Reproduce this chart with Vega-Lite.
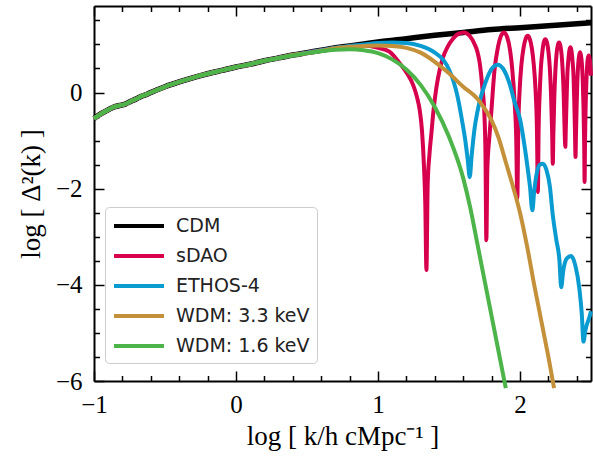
{
"$schema": "https://vega.github.io/schema/vega-lite/v6.json",
"width": 497, "height": 375,
"autosize": {"type": "none"},
"padding": {"left": 94, "top": 6, "right": 2, "bottom": 75},
"datasets": {"d": [
{"model":"CDM","x":-1.0,"y":-0.54},{"model":"CDM","x":-0.95,"y":-0.44},{"model":"CDM","x":-0.9,"y":-0.36},{"model":"CDM","x":-0.86,"y":-0.30},{"model":"CDM","x":-0.82,"y":-0.27},{"model":"CDM","x":-0.78,"y":-0.24},{"model":"CDM","x":-0.74,"y":-0.18},{"model":"CDM","x":-0.7,"y":-0.13},{"model":"CDM","x":-0.67,"y":-0.08},{"model":"CDM","x":-0.63,"y":-0.04},{"model":"CDM","x":-0.6,"y":0.0},{"model":"CDM","x":-0.5,"y":0.12},{"model":"CDM","x":-0.4,"y":0.22},{"model":"CDM","x":-0.3,"y":0.31},{"model":"CDM","x":-0.2,"y":0.39},{"model":"CDM","x":-0.1,"y":0.46},{"model":"CDM","x":0.0,"y":0.53},{"model":"CDM","x":0.1,"y":0.59},{"model":"CDM","x":0.2,"y":0.66},{"model":"CDM","x":0.3,"y":0.72},{"model":"CDM","x":0.4,"y":0.78},{"model":"CDM","x":0.5,"y":0.83},{"model":"CDM","x":0.6,"y":0.88},{"model":"CDM","x":0.7,"y":0.93},{"model":"CDM","x":0.8,"y":0.97},{"model":"CDM","x":0.9,"y":1.01},{"model":"CDM","x":1.0,"y":1.05},{"model":"CDM","x":1.2,"y":1.12},{"model":"CDM","x":1.4,"y":1.19},{"model":"CDM","x":1.6,"y":1.25},{"model":"CDM","x":1.8,"y":1.31},{"model":"CDM","x":2.0,"y":1.35},{"model":"CDM","x":2.2,"y":1.39},{"model":"CDM","x":2.4,"y":1.43},{"model":"CDM","x":2.5,"y":1.45},

{"model":"sDAO","x":-1.0,"y":-0.54},{"model":"sDAO","x":-0.95,"y":-0.44},{"model":"sDAO","x":-0.9,"y":-0.36},{"model":"sDAO","x":-0.86,"y":-0.30},{"model":"sDAO","x":-0.82,"y":-0.27},{"model":"sDAO","x":-0.78,"y":-0.24},{"model":"sDAO","x":-0.74,"y":-0.18},{"model":"sDAO","x":-0.7,"y":-0.13},{"model":"sDAO","x":-0.67,"y":-0.08},{"model":"sDAO","x":-0.63,"y":-0.04},{"model":"sDAO","x":-0.6,"y":0.0},{"model":"sDAO","x":-0.5,"y":0.12},{"model":"sDAO","x":-0.4,"y":0.22},{"model":"sDAO","x":-0.3,"y":0.31},{"model":"sDAO","x":-0.2,"y":0.39},{"model":"sDAO","x":-0.1,"y":0.46},{"model":"sDAO","x":0.0,"y":0.53},{"model":"sDAO","x":0.1,"y":0.59},{"model":"sDAO","x":0.2,"y":0.66},{"model":"sDAO","x":0.3,"y":0.72},{"model":"sDAO","x":0.4,"y":0.78},{"model":"sDAO","x":0.5,"y":0.83},{"model":"sDAO","x":0.6,"y":0.88},{"model":"sDAO","x":0.7,"y":0.92},
{"model":"sDAO","x":0.8,"y":0.96},{"model":"sDAO","x":0.9,"y":0.98},{"model":"sDAO","x":1.0,"y":0.93},{"model":"sDAO","x":1.08,"y":0.85},{"model":"sDAO","x":1.15,"y":0.62},{"model":"sDAO","x":1.2,"y":0.42},{"model":"sDAO","x":1.247,"y":0.16},{"model":"sDAO","x":1.275,"y":-0.1},{"model":"sDAO","x":1.294,"y":-0.37},{"model":"sDAO","x":1.31,"y":-0.8},{"model":"sDAO","x":1.324,"y":-1.55},{"model":"sDAO","x":1.333,"y":-2.3},{"model":"sDAO","x":1.341,"y":-3.69},{"model":"sDAO","x":1.35,"y":-1.9},{"model":"sDAO","x":1.362,"y":-1.3},{"model":"sDAO","x":1.376,"y":-0.85},{"model":"sDAO","x":1.39,"y":-0.4},{"model":"sDAO","x":1.411,"y":0.1},{"model":"sDAO","x":1.435,"y":0.48},{"model":"sDAO","x":1.458,"y":0.73},{"model":"sDAO","x":1.49,"y":0.95},{"model":"sDAO","x":1.528,"y":1.12},{"model":"sDAO","x":1.565,"y":1.22},{"model":"sDAO","x":1.605,"y":1.25},{"model":"sDAO","x":1.645,"y":1.18},{"model":"sDAO","x":1.681,"y":1.0},{"model":"sDAO","x":1.7,"y":0.85},{"model":"sDAO","x":1.716,"y":0.62},{"model":"sDAO","x":1.735,"y":0.1},{"model":"sDAO","x":1.75,"y":-0.5},{"model":"sDAO","x":1.757,"y":-1.3},{"model":"sDAO","x":1.763,"y":-3.07},{"model":"sDAO","x":1.77,"y":-1.6},{"model":"sDAO","x":1.785,"y":-0.9},{"model":"sDAO","x":1.798,"y":-0.4},{"model":"sDAO","x":1.82,"y":0.45},{"model":"sDAO","x":1.845,"y":0.95},{"model":"sDAO","x":1.865,"y":1.17},{"model":"sDAO","x":1.887,"y":1.25},{"model":"sDAO","x":1.91,"y":1.15},{"model":"sDAO","x":1.93,"y":0.88},{"model":"sDAO","x":1.945,"y":0.5},{"model":"sDAO","x":1.962,"y":-0.2},{"model":"sDAO","x":1.973,"y":-0.9},{"model":"sDAO","x":1.981,"y":-2.2},
{"model":"sDAO","x":1.988,"y":-0.72},{"model":"sDAO","x":1.998,"y":0.08},{"model":"sDAO","x":2.01,"y":0.58},{"model":"sDAO","x":2.025,"y":0.93},{"model":"sDAO","x":2.04,"y":1.12},{"model":"sDAO","x":2.054,"y":1.18},{"model":"sDAO","x":2.068,"y":1.12},{"model":"sDAO","x":2.083,"y":0.93},{"model":"sDAO","x":2.097,"y":0.58},{"model":"sDAO","x":2.109,"y":0.08},{"model":"sDAO","x":2.119,"y":-0.72},{"model":"sDAO","x":2.126,"y":-2.07},
{"model":"sDAO","x":2.131,"y":-0.79},{"model":"sDAO","x":2.139,"y":0.01},{"model":"sDAO","x":2.147,"y":0.51},{"model":"sDAO","x":2.158,"y":0.86},{"model":"sDAO","x":2.168,"y":1.05},{"model":"sDAO","x":2.178,"y":1.11},{"model":"sDAO","x":2.189,"y":1.05},{"model":"sDAO","x":2.2,"y":0.86},{"model":"sDAO","x":2.21,"y":0.51},{"model":"sDAO","x":2.218,"y":0.01},{"model":"sDAO","x":2.226,"y":-0.79},{"model":"sDAO","x":2.231,"y":-1.48},
{"model":"sDAO","x":2.235,"y":-0.86},{"model":"sDAO","x":2.242,"y":-0.06},{"model":"sDAO","x":2.249,"y":0.44},{"model":"sDAO","x":2.257,"y":0.79},{"model":"sDAO","x":2.266,"y":0.98},{"model":"sDAO","x":2.275,"y":1.04},{"model":"sDAO","x":2.284,"y":0.98},{"model":"sDAO","x":2.293,"y":0.79},{"model":"sDAO","x":2.301,"y":0.44},{"model":"sDAO","x":2.308,"y":-0.06},{"model":"sDAO","x":2.315,"y":-0.86},{"model":"sDAO","x":2.319,"y":-1.13},
{"model":"sDAO","x":2.323,"y":-0.7},{"model":"sDAO","x":2.328,"y":-0.16},{"model":"sDAO","x":2.333,"y":0.34},{"model":"sDAO","x":2.341,"y":0.69},{"model":"sDAO","x":2.348,"y":0.88},{"model":"sDAO","x":2.355,"y":0.94},{"model":"sDAO","x":2.362,"y":0.88},{"model":"sDAO","x":2.369,"y":0.69},{"model":"sDAO","x":2.377,"y":0.34},{"model":"sDAO","x":2.382,"y":-0.16},{"model":"sDAO","x":2.387,"y":-0.8},{"model":"sDAO","x":2.391,"y":-1.34},
{"model":"sDAO","x":2.394,"y":-0.9},{"model":"sDAO","x":2.399,"y":-0.26},{"model":"sDAO","x":2.404,"y":0.24},{"model":"sDAO","x":2.41,"y":0.59},{"model":"sDAO","x":2.417,"y":0.78},{"model":"sDAO","x":2.423,"y":0.84},{"model":"sDAO","x":2.429,"y":0.78},{"model":"sDAO","x":2.436,"y":0.59},{"model":"sDAO","x":2.442,"y":0.24},{"model":"sDAO","x":2.447,"y":-0.26},{"model":"sDAO","x":2.452,"y":-1.06},{"model":"sDAO","x":2.455,"y":-1.86},
{"model":"sDAO","x":2.458,"y":-1.0},{"model":"sDAO","x":2.462,"y":-0.33},{"model":"sDAO","x":2.467,"y":0.17},{"model":"sDAO","x":2.472,"y":0.52},{"model":"sDAO","x":2.478,"y":0.71},{"model":"sDAO","x":2.484,"y":0.77},{"model":"sDAO","x":2.49,"y":0.71},{"model":"sDAO","x":2.496,"y":0.52},{"model":"sDAO","x":2.5,"y":0.35},

{"model":"ETHOS-4","x":-1.0,"y":-0.54},{"model":"ETHOS-4","x":-0.95,"y":-0.44},{"model":"ETHOS-4","x":-0.9,"y":-0.36},{"model":"ETHOS-4","x":-0.86,"y":-0.30},{"model":"ETHOS-4","x":-0.82,"y":-0.27},{"model":"ETHOS-4","x":-0.78,"y":-0.24},{"model":"ETHOS-4","x":-0.74,"y":-0.18},{"model":"ETHOS-4","x":-0.7,"y":-0.13},{"model":"ETHOS-4","x":-0.67,"y":-0.08},{"model":"ETHOS-4","x":-0.63,"y":-0.04},{"model":"ETHOS-4","x":-0.6,"y":0.0},{"model":"ETHOS-4","x":-0.5,"y":0.12},{"model":"ETHOS-4","x":-0.4,"y":0.22},{"model":"ETHOS-4","x":-0.3,"y":0.31},{"model":"ETHOS-4","x":-0.2,"y":0.39},{"model":"ETHOS-4","x":-0.1,"y":0.46},{"model":"ETHOS-4","x":0.0,"y":0.53},{"model":"ETHOS-4","x":0.1,"y":0.59},{"model":"ETHOS-4","x":0.2,"y":0.66},{"model":"ETHOS-4","x":0.3,"y":0.72},{"model":"ETHOS-4","x":0.4,"y":0.78},{"model":"ETHOS-4","x":0.5,"y":0.83},{"model":"ETHOS-4","x":0.6,"y":0.88},{"model":"ETHOS-4","x":0.7,"y":0.93},{"model":"ETHOS-4","x":0.8,"y":0.97},
{"model":"ETHOS-4","x":0.9,"y":1.0},{"model":"ETHOS-4","x":1.0,"y":1.03},{"model":"ETHOS-4","x":1.1,"y":1.04},{"model":"ETHOS-4","x":1.2,"y":1.03},{"model":"ETHOS-4","x":1.3,"y":0.97},{"model":"ETHOS-4","x":1.4,"y":0.83},{"model":"ETHOS-4","x":1.46,"y":0.68},{"model":"ETHOS-4","x":1.5,"y":0.48},{"model":"ETHOS-4","x":1.53,"y":0.25},{"model":"ETHOS-4","x":1.56,"y":-0.08},{"model":"ETHOS-4","x":1.59,"y":-0.55},{"model":"ETHOS-4","x":1.615,"y":-1.0},{"model":"ETHOS-4","x":1.632,"y":-1.4},{"model":"ETHOS-4","x":1.646,"y":-1.76},{"model":"ETHOS-4","x":1.66,"y":-1.3},{"model":"ETHOS-4","x":1.68,"y":-0.75},{"model":"ETHOS-4","x":1.7,"y":-0.4},{"model":"ETHOS-4","x":1.716,"y":-0.18},{"model":"ETHOS-4","x":1.75,"y":0.15},{"model":"ETHOS-4","x":1.786,"y":0.42},{"model":"ETHOS-4","x":1.815,"y":0.54},{"model":"ETHOS-4","x":1.845,"y":0.58},{"model":"ETHOS-4","x":1.88,"y":0.5},{"model":"ETHOS-4","x":1.927,"y":0.18},{"model":"ETHOS-4","x":1.962,"y":-0.2},{"model":"ETHOS-4","x":2.0,"y":-0.55},{"model":"ETHOS-4","x":2.033,"y":-1.13},{"model":"ETHOS-4","x":2.055,"y":-1.6},{"model":"ETHOS-4","x":2.07,"y":-1.95},{"model":"ETHOS-4","x":2.087,"y":-2.45},{"model":"ETHOS-4","x":2.1,"y":-2.05},{"model":"ETHOS-4","x":2.12,"y":-1.65},{"model":"ETHOS-4","x":2.14,"y":-1.5},{"model":"ETHOS-4","x":2.161,"y":-1.48},{"model":"ETHOS-4","x":2.185,"y":-1.6},{"model":"ETHOS-4","x":2.21,"y":-1.95},{"model":"ETHOS-4","x":2.231,"y":-2.55},{"model":"ETHOS-4","x":2.255,"y":-3.05},{"model":"ETHOS-4","x":2.278,"y":-3.5},{"model":"ETHOS-4","x":2.29,"y":-4.05},{"model":"ETHOS-4","x":2.305,"y":-3.7},{"model":"ETHOS-4","x":2.33,"y":-3.45},{"model":"ETHOS-4","x":2.36,"y":-3.4},{"model":"ETHOS-4","x":2.39,"y":-3.6},{"model":"ETHOS-4","x":2.419,"y":-4.1},{"model":"ETHOS-4","x":2.435,"y":-4.6},{"model":"ETHOS-4","x":2.447,"y":-5.18},{"model":"ETHOS-4","x":2.46,"y":-4.95},{"model":"ETHOS-4","x":2.49,"y":-4.66},{"model":"ETHOS-4","x":2.5,"y":-4.55},

{"model":"WDM: 3.3 keV","x":-1.0,"y":-0.54},{"model":"WDM: 3.3 keV","x":-0.95,"y":-0.44},{"model":"WDM: 3.3 keV","x":-0.9,"y":-0.36},{"model":"WDM: 3.3 keV","x":-0.86,"y":-0.30},{"model":"WDM: 3.3 keV","x":-0.82,"y":-0.27},{"model":"WDM: 3.3 keV","x":-0.78,"y":-0.24},{"model":"WDM: 3.3 keV","x":-0.74,"y":-0.18},{"model":"WDM: 3.3 keV","x":-0.7,"y":-0.13},{"model":"WDM: 3.3 keV","x":-0.67,"y":-0.08},{"model":"WDM: 3.3 keV","x":-0.63,"y":-0.04},{"model":"WDM: 3.3 keV","x":-0.6,"y":0.0},{"model":"WDM: 3.3 keV","x":-0.5,"y":0.12},{"model":"WDM: 3.3 keV","x":-0.4,"y":0.22},{"model":"WDM: 3.3 keV","x":-0.3,"y":0.31},{"model":"WDM: 3.3 keV","x":-0.2,"y":0.39},{"model":"WDM: 3.3 keV","x":-0.1,"y":0.46},{"model":"WDM: 3.3 keV","x":0.0,"y":0.53},{"model":"WDM: 3.3 keV","x":0.1,"y":0.59},{"model":"WDM: 3.3 keV","x":0.2,"y":0.66},{"model":"WDM: 3.3 keV","x":0.3,"y":0.72},{"model":"WDM: 3.3 keV","x":0.4,"y":0.78},{"model":"WDM: 3.3 keV","x":0.5,"y":0.82},
{"model":"WDM: 3.3 keV","x":0.6,"y":0.87},{"model":"WDM: 3.3 keV","x":0.7,"y":0.92},{"model":"WDM: 3.3 keV","x":0.8,"y":0.95},{"model":"WDM: 3.3 keV","x":0.9,"y":0.97},{"model":"WDM: 3.3 keV","x":1.0,"y":0.98},{"model":"WDM: 3.3 keV","x":1.1,"y":0.97},{"model":"WDM: 3.3 keV","x":1.2,"y":0.93},{"model":"WDM: 3.3 keV","x":1.3,"y":0.83},{"model":"WDM: 3.3 keV","x":1.4,"y":0.64},{"model":"WDM: 3.3 keV","x":1.5,"y":0.4},{"model":"WDM: 3.3 keV","x":1.6,"y":0.12},{"model":"WDM: 3.3 keV","x":1.7,"y":-0.13},{"model":"WDM: 3.3 keV","x":1.75,"y":-0.33},{"model":"WDM: 3.3 keV","x":1.8,"y":-0.58},{"model":"WDM: 3.3 keV","x":1.85,"y":-0.95},{"model":"WDM: 3.3 keV","x":1.9,"y":-1.45},{"model":"WDM: 3.3 keV","x":1.95,"y":-1.95},{"model":"WDM: 3.3 keV","x":2.0,"y":-2.5},{"model":"WDM: 3.3 keV","x":2.05,"y":-3.2},{"model":"WDM: 3.3 keV","x":2.1,"y":-4.0},{"model":"WDM: 3.3 keV","x":2.15,"y":-4.75},{"model":"WDM: 3.3 keV","x":2.2,"y":-5.5},{"model":"WDM: 3.3 keV","x":2.24,"y":-6.15},

{"model":"WDM: 1.6 keV","x":-1.0,"y":-0.54},{"model":"WDM: 1.6 keV","x":-0.95,"y":-0.44},{"model":"WDM: 1.6 keV","x":-0.9,"y":-0.36},{"model":"WDM: 1.6 keV","x":-0.86,"y":-0.30},{"model":"WDM: 1.6 keV","x":-0.82,"y":-0.27},{"model":"WDM: 1.6 keV","x":-0.78,"y":-0.24},{"model":"WDM: 1.6 keV","x":-0.74,"y":-0.18},{"model":"WDM: 1.6 keV","x":-0.7,"y":-0.13},{"model":"WDM: 1.6 keV","x":-0.67,"y":-0.08},{"model":"WDM: 1.6 keV","x":-0.63,"y":-0.04},{"model":"WDM: 1.6 keV","x":-0.6,"y":0.0},{"model":"WDM: 1.6 keV","x":-0.5,"y":0.12},{"model":"WDM: 1.6 keV","x":-0.4,"y":0.22},{"model":"WDM: 1.6 keV","x":-0.3,"y":0.31},{"model":"WDM: 1.6 keV","x":-0.2,"y":0.39},{"model":"WDM: 1.6 keV","x":-0.1,"y":0.46},{"model":"WDM: 1.6 keV","x":0.0,"y":0.53},{"model":"WDM: 1.6 keV","x":0.1,"y":0.59},{"model":"WDM: 1.6 keV","x":0.2,"y":0.66},{"model":"WDM: 1.6 keV","x":0.3,"y":0.72},
{"model":"WDM: 1.6 keV","x":0.4,"y":0.77},{"model":"WDM: 1.6 keV","x":0.5,"y":0.82},{"model":"WDM: 1.6 keV","x":0.6,"y":0.86},{"model":"WDM: 1.6 keV","x":0.7,"y":0.89},{"model":"WDM: 1.6 keV","x":0.8,"y":0.9},{"model":"WDM: 1.6 keV","x":0.9,"y":0.88},{"model":"WDM: 1.6 keV","x":1.0,"y":0.82},{"model":"WDM: 1.6 keV","x":1.1,"y":0.69},{"model":"WDM: 1.6 keV","x":1.2,"y":0.48},{"model":"WDM: 1.6 keV","x":1.3,"y":0.16},{"model":"WDM: 1.6 keV","x":1.4,"y":-0.3},{"model":"WDM: 1.6 keV","x":1.5,"y":-0.92},{"model":"WDM: 1.6 keV","x":1.6,"y":-1.78},{"model":"WDM: 1.6 keV","x":1.65,"y":-2.4},{"model":"WDM: 1.6 keV","x":1.7,"y":-3.15},{"model":"WDM: 1.6 keV","x":1.75,"y":-3.9},{"model":"WDM: 1.6 keV","x":1.8,"y":-4.65},{"model":"WDM: 1.6 keV","x":1.85,"y":-5.4},{"model":"WDM: 1.6 keV","x":1.9,"y":-6.15}
]},
"config": {
  "view": {"stroke": null},
  "axis": {"grid": false, "domainColor": "black", "domainWidth": 2, "tickColor": "black", "tickWidth": 1.5,
    "labelFont": "Liberation Serif", "labelFontSize": 25, "labelColor": "black",
    "titleFont": "Liberation Serif", "titleFontSize": 27, "titleFontWeight": "normal", "titleColor": "black"},
  "line": {"clip": true, "interpolate": "monotone", "strokeJoin": "round"}
},
"resolve": {"axis": {"x": "independent", "y": "independent"}},
"encoding": {
  "x": {"field": "x", "type": "quantitative", "scale": {"domain": [-1, 2.5], "nice": false, "zero": false}},
  "y": {"field": "y", "type": "quantitative", "scale": {"domain": [-6, 1.8], "nice": false, "zero": false}},
  "color": {"field": "model", "type": "nominal",
    "scale": {"domain": ["CDM","sDAO","ETHOS-4","WDM: 3.3 keV","WDM: 1.6 keV"], "range": ["#000000","#d7004c","#0a9bd0","#c4913a","#4cb448"]},
    "legend": {"orient": "none", "legendX": 11, "legendY": 201, "title": null, "symbolType": "M-1,0H4", "symbolSize": 400, "symbolStrokeWidth": 4,
      "labelFont": "DejaVu Sans", "labelFontSize": 19, "labelColor": "#222222", "labelOffset": 40, "rowPadding": 8, "padding": 7,
      "strokeColor": "#cccccc", "fillColor": "white", "cornerRadius": 4}}
},
"layer": [
  {"data": {"name": "d"}, "transform": [{"filter": "datum.model === 'CDM'"}], "mark": {"type": "line", "strokeWidth": 5.5},
   "encoding": {
     "x": {"field": "x", "type": "quantitative", "axis": {"orient": "bottom", "values": [-1,-0.8,-0.6,-0.4,-0.2,0,0.2,0.4,0.6,0.8,1,1.2,1.4,1.6,1.8,2,2.2,2.4],
       "labelExpr": "datum.value % 1 === 0 ? replace(datum.label, '-', '−') : ''", "format": ".0f",
       "tickSize": {"condition": {"test": "datum.value % 1 === 0", "value": -10}, "value": -5.5},
       "labelPadding": 21, "labelFlush": false, "labelOverlap": false, "title": "log [ k/h cMpc⁻¹ ]", "titlePadding": 2}},
     "y": {"field": "y", "type": "quantitative", "axis": {"orient": "left", "values": [-6,-5.5,-5,-4.5,-4,-3.5,-3,-2.5,-2,-1.5,-1,-0.5,0,0.5,1,1.5],
       "labelExpr": "datum.value % 2 === 0 ? replace(datum.label, '-', '−') : ''", "format": ".0f",
       "tickSize": {"condition": {"test": "datum.value % 2 === 0", "value": -10}, "value": -5.5},
       "labelPadding": 22, "labelFlush": false, "labelOverlap": false, "title": "log [ Δ²(k) ]", "titlePadding": 10}}
   }},
  {"data": {"name": "d"}, "transform": [{"filter": "datum.model === 'sDAO'"}], "mark": {"type": "line", "strokeWidth": 4},
   "encoding": {"x": {"field": "x", "type": "quantitative", "axis": null}, "y": {"field": "y", "type": "quantitative", "axis": null}}},
  {"data": {"name": "d"}, "transform": [{"filter": "datum.model === 'ETHOS-4'"}], "mark": {"type": "line", "strokeWidth": 4},
   "encoding": {"x": {"field": "x", "type": "quantitative", "axis": null}, "y": {"field": "y", "type": "quantitative", "axis": null}}},
  {"data": {"name": "d"}, "transform": [{"filter": "datum.model === 'WDM: 3.3 keV'"}], "mark": {"type": "line", "strokeWidth": 4},
   "encoding": {"x": {"field": "x", "type": "quantitative", "axis": null}, "y": {"field": "y", "type": "quantitative", "axis": null}}},
  {"data": {"name": "d"}, "transform": [{"filter": "datum.model === 'WDM: 1.6 keV'"}], "mark": {"type": "line", "strokeWidth": 4},
   "encoding": {"x": {"field": "x", "type": "quantitative", "axis": null}, "y": {"field": "y", "type": "quantitative", "axis": null}}},
  {"data": {"name": "d"}, "transform": [{"filter": "datum.model === 'CDM'"}], "mark": {"type": "line", "opacity": 0},
   "encoding": {
     "x": {"field": "x", "type": "quantitative", "axis": {"orient": "top", "values": [-1,-0.8,-0.6,-0.4,-0.2,0,0.2,0.4,0.6,0.8,1,1.2,1.4,1.6,1.8,2,2.2,2.4],
       "labels": false, "title": null, "tickSize": {"condition": {"test": "datum.value % 1 === 0", "value": -10}, "value": -5.5}}},
     "y": {"field": "y", "type": "quantitative", "axis": {"orient": "right", "values": [-6,-5.5,-5,-4.5,-4,-3.5,-3,-2.5,-2,-1.5,-1,-0.5,0,0.5,1,1.5],
       "labels": false, "title": null, "tickSize": {"condition": {"test": "datum.value % 2 === 0", "value": -10}, "value": -5.5}}}
   }}
]
}
